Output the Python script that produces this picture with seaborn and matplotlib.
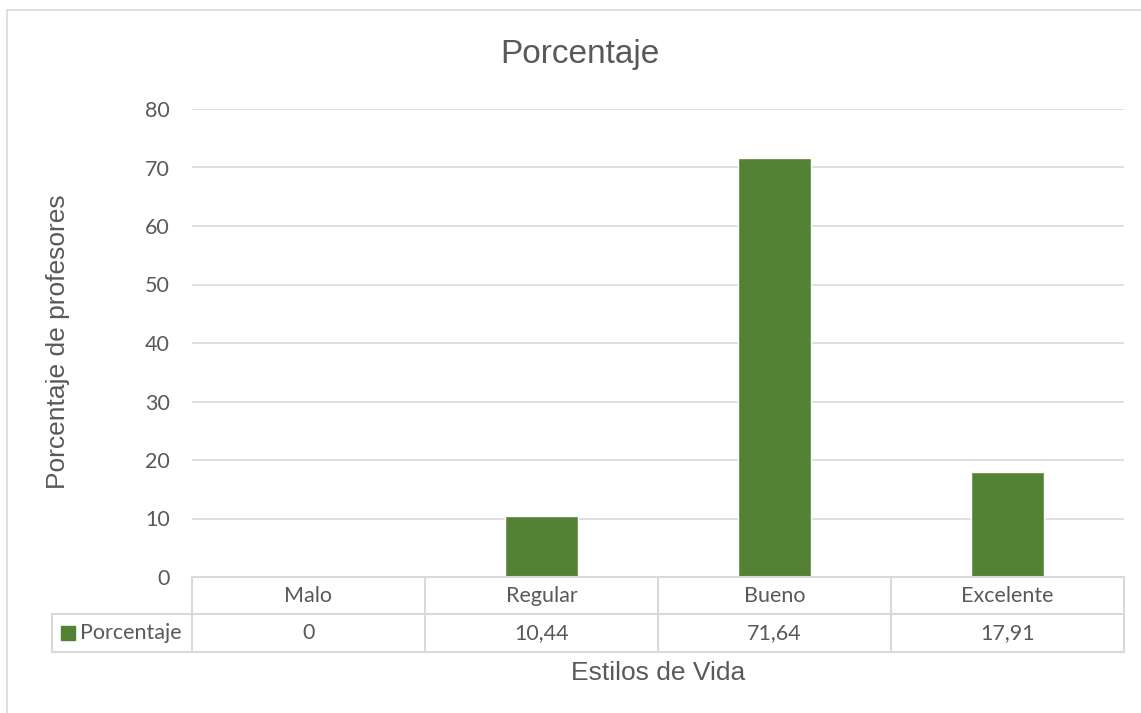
import matplotlib

matplotlib.use("Agg")
import matplotlib.pyplot as plt
import pandas as pd
import seaborn as sns
from matplotlib.lines import Line2D
from matplotlib.patches import Rectangle
from matplotlib.transforms import blended_transform_factory

categories = ["Malo", "Regular", "Bueno", "Excelente"]
values = [0, 10.44, 71.64, 17.91]
value_labels = ["0", "10,44", "71,64", "17,91"]
series_name = "Porcentaje"

BAR_COLOR = "#548235"
TEXT_COLOR = "#595959"
GRID_COLOR = "#d9d9d9"
TABLE_FONT = ["Lato", "DejaVu Sans"]
LABEL_FONT = ["Liberation Sans", "DejaVu Sans"]

sns.set_theme(style="white")
plt.rcParams["font.family"] = TABLE_FONT

df = pd.DataFrame({"categoria": categories, "valor": values})

W, H = 1141, 713
fig = plt.figure(figsize=(W / 100, H / 100), dpi=100)
ax = fig.add_axes([192 / W, 1 - 577 / H, (1124 - 192) / W, (577 - 109) / H])

sns.barplot(data=df, x="categoria", y="valor", order=categories,
            color=BAR_COLOR, saturation=1, width=0.31, ax=ax, zorder=3)

ax.set_ylim(0, 80)
ax.set_xlim(-0.5, len(categories) - 0.5)
ax.set_yticks(range(0, 81, 10))
ax.tick_params(axis="y", length=0, pad=16, labelsize=15.5, labelcolor=TEXT_COLOR)
ax.set_xticks([])
ax.set_xlabel("")
ax.set_ylabel("")
ax.grid(axis="y", color=GRID_COLOR, linewidth=1.2, zorder=0)
for side in ["top", "right", "left", "bottom"]:
    ax.spines[side].set_visible(False)

# data table below the axis
trans = blended_transform_factory(ax.transData, fig.transFigure)
row1_top, row1_bot, row2_bot = 1 - 577 / H, 1 - 614 / H, 1 - 652 / H
x_left = 192 / W
x_right = 1124 / W
legend_left = 52 / W
line_kw = dict(color=GRID_COLOR, linewidth=1.5, transform=fig.transFigure)
fig.add_artist(Line2D([x_left, x_right], [row1_top, row1_top], **line_kw))
fig.add_artist(Line2D([legend_left, x_right], [row1_bot, row1_bot], **line_kw))
fig.add_artist(Line2D([legend_left, x_right], [row2_bot, row2_bot], **line_kw))
fig.add_artist(Line2D([legend_left, legend_left], [row1_bot, row2_bot], **line_kw))
for i in range(len(categories) + 1):
    xf = (192 + i * (1124 - 192) / len(categories)) / W
    fig.add_artist(Line2D([xf, xf], [row1_top, row2_bot], **line_kw))

for i, (cat, lab) in enumerate(zip(categories, value_labels)):
    fig.text(i, (row1_top + row1_bot) / 2, cat, transform=trans, ha="center",
             va="center", fontsize=15.5, color=TEXT_COLOR)
    fig.text(i, (row1_bot + row2_bot) / 2, lab, transform=trans, ha="center",
             va="center", fontsize=15.5, color=TEXT_COLOR)

# legend key inside the table
fig.add_artist(Rectangle((61 / W, 1 - 640 / H), 14 / W, 14 / H,
                         transform=fig.transFigure, color=BAR_COLOR))
fig.text(80 / W, (row1_bot + row2_bot) / 2, series_name, ha="left", va="center",
         fontsize=15.5, color=TEXT_COLOR)

fig.text(580 / W, 1 - 55 / H, "Porcentaje", ha="center", va="center",
         fontsize=24, color=TEXT_COLOR, family=LABEL_FONT)
fig.text(658 / W, 1 - 673 / H, "Estilos de Vida", ha="center", va="center",
         fontsize=19, color=TEXT_COLOR, family=LABEL_FONT)
fig.text(58 / W, 1 - 342 / H, "Porcentaje de profesores", ha="center", va="center",
         rotation=90, fontsize=19, color=TEXT_COLOR, family=LABEL_FONT)

# chart border
fig.add_artist(Rectangle((7 / W, -0.01), 1.1, (H - 10) / H + 0.01, fill=False,
                         edgecolor=GRID_COLOR, linewidth=1.2,
                         transform=fig.transFigure))

fig.savefig("out.png", dpi=100, facecolor="white")
